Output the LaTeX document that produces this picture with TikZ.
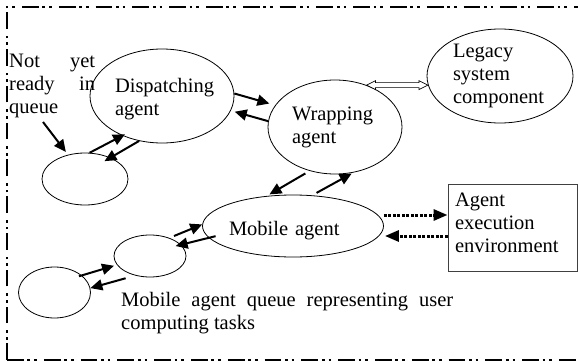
\documentclass[tikz,border=0pt]{standalone}
\usepackage{fontspec}
\setmainfont{Liberation Serif}
\usetikzlibrary{shapes.geometric,arrows.meta,calc}
\hyphenpenalty=10000
\exhyphenpenalty=10000
\hbadness=10000
\hfuzz=50pt
\begin{document}
\begin{tikzpicture}[x=1pt,y=-1pt,
  txt/.style={font=\fontsize{20.5}{23}\selectfont, inner sep=0pt},
  ell/.style={txt, draw, ellipse, line width=0.8pt, align=left},
  arr/.style={line width=2pt, -{Triangle[length=12pt,width=11pt]}},
  dotarr/.style={line width=3pt, dash pattern=on 3pt off 1.5pt, -{Triangle[length=14pt,width=11pt]}},
  hollow/.style={line width=0.7pt, fill=white, line join=miter},
  frame/.style={line width=2pt, dash pattern=on 16.7pt off 3.7pt on 2.7pt off 4pt on 2.7pt off 7pt}]
\useasboundingbox (0,0) rectangle (578,361);
% frame
\draw[frame] (7,360) -- (7,7) -- (600,7);
\draw[frame] (7,360) -- (600,360);
% texts
\node[txt, anchor=base west, text width=86pt, align=justify] (nyr) at (9,67) {Not yet\linebreak ready in\linebreak queue};
\node[txt, anchor=base west, text width=332pt, align=justify] (mq) at (121,306) {Mobile agent queue representing user\linebreak computing tasks};
% ellipses
\node[ell, minimum width=144pt, minimum height=94pt, text width=94pt, text height=19.5pt] (disp) at (162,96) {Dispatching\\agent};
\node[ell, minimum width=134pt, minimum height=94pt, text width=86pt] (wrap) at (335,127) {Wrapping\\agent};
\node[ell, minimum width=146pt, minimum height=94pt, text width=94pt] (leg) at (500,76) {Legacy\\system\\component};
\node[ell, minimum width=168pt, minimum height=62pt, text width=128pt, text height=22.5pt] (mob) at (293,226) {Mobile agent};
\node[ell, minimum width=86pt, minimum height=52pt] (q1) at (85,179) {};
\node[ell, minimum width=72pt, minimum height=42pt] (q2) at (150,256) {};
\node[ell, minimum width=72pt, minimum height=51pt] (q3) at (54.5,292.5) {};
\node[txt, draw=black!75, line width=0.9pt, rectangle, minimum width=129pt, minimum height=87pt, text width=115pt, align=left, text depth=56.5pt] (box) at (512.5,227.5) {Agent\\execution\\environment};
% arrows
\coordinate (qs) at (43,122);
\draw[arr, shorten >=3.5pt] (qs) -- (q1.125);
\draw[arr, shorten >=-3pt] (q1.80) -- (disp.225);
\draw[arr, shorten >=-7pt] (disp.243) -- (q1.40);
\draw[arr, shorten >=6pt] (disp.2) -- (wrap.160);
\draw[arr, shorten >=4pt] (wrap.175) -- (disp.-12);
\draw[arr, shorten <=5pt, shorten >=2pt] (mob.58) -- (wrap.-68);
\draw[arr, shorten <=5pt, shorten >=3pt] (wrap.240) -- (mob.131);
\draw[arr, shorten <=5pt] (q2.43) -- (mob.179);
\draw[arr, shorten <=-7pt, shorten >=-5.5pt] (mob.188) -- (q2.20);
\draw[arr, shorten <=-3pt, shorten >=3pt] (q3.32) -- (q2.195);
\draw[arr, shorten <=10pt] (q2.233) -- (q3.7);
% dotted arrows
\coordinate (b1) at ([yshift=12.5pt]box.west);
\coordinate (b2) at ([yshift=-8.5pt]box.west);
\draw[dotarr] (mob.east |- b1) -- (b1);
\draw[dotarr] (b2) -- ([xshift=1pt]mob.east |- b2);
% hollow double arrow
\coordinate (hA) at (wrap.53);
\coordinate (hB) at (leg.187 |- hA);
\draw[hollow] (hA) -- ($(hA)+(9,-4.5)$) -- ($(hA)+(9,-2.5)$) -- ($(hB)+(-9,-2.5)$) -- ($(hB)+(-9,-4.5)$) -- (hB) -- ($(hB)+(-9,4.5)$) -- ($(hB)+(-9,2.5)$) -- ($(hA)+(9,2.5)$) -- ($(hA)+(9,4.5)$) -- cycle;
\end{tikzpicture}
\end{document}
